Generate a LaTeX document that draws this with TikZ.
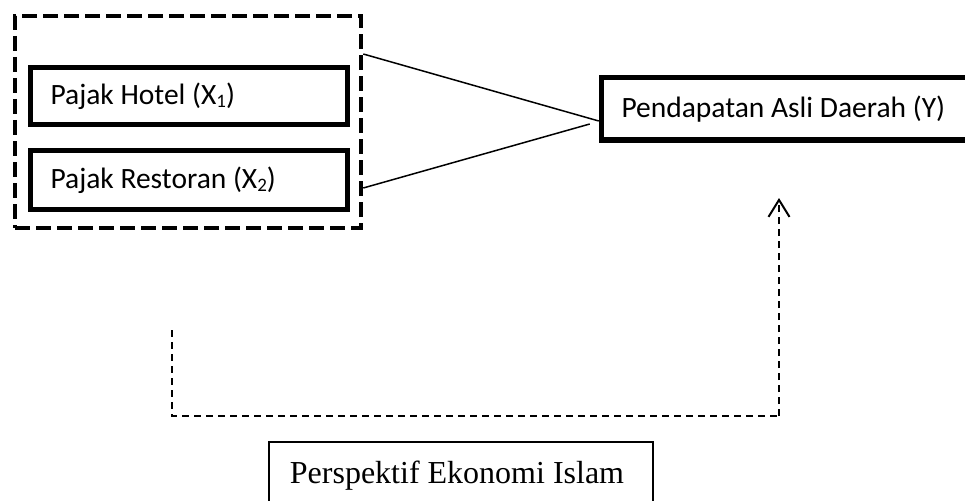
\documentclass[tikz,border=0pt]{standalone}
\usepackage{fontspec}
\setmainfont{Liberation Serif}
\newfontfamily\carl{Carlito}
\usetikzlibrary{arrows.meta,calc}
\newcommand{\subdig}[1]{\raisebox{-3pt}{\fontsize{19}{22}\selectfont #1}}
\newcommand{\carlfont}{\carl\fontsize{29.5}{34}\selectfont}
\newcommand{\nsp}{\spaceskip=0pt\xspaceskip=0pt\relax}
\begin{document}
\begin{tikzpicture}[x=1pt,y=-1pt,
  varbox/.style={draw,line width=4.5pt,rectangle,inner xsep=20pt,inner ysep=0pt,align=left,
    font=\carlfont},
  groupbox/.style={draw,line width=4.5pt,dash pattern=on 15pt off 6pt,rectangle,inner sep=0pt},
  conn/.style={line width=1.5pt},
  flow/.style={line width=2pt,dash pattern=on 7pt off 5pt},
  persp/.style={draw,line width=2pt,rectangle,inner sep=0pt,font=\fontsize{32}{38}\selectfont}]
\useasboundingbox (0,0) rectangle (965,500);
\clip (0,0) rectangle (965,500);
% group box
\node[groupbox,minimum width=346pt,minimum height=212pt] (grp) at (188,122) {};
% variable boxes
\node[varbox,text width=277pt,minimum height=57pt] (x1) at (189,96) {\nsp Pajak Hotel (X\subdig{1})};
\node[varbox,text width=277pt,minimum height=59pt] (x2) at (189,180) {\nsp Pajak Restoran (X\subdig{2})};
\node[varbox,line width=5.5pt,text width=333pt,minimum height=62.3pt] (y) at (788,108.85) {\nsp Pendapatan Asli Daerah (Y)};
% perspective box
\node[persp,minimum width=384pt,minimum height=96pt] (p) at (461,490) {};
\node[font=\fontsize{32}{38}\selectfont,inner sep=0pt,anchor=base] (pt) at (457,483) {Perspektif Ekonomi Islam};
% connectors
\coordinate (h1) at (0,54);
\coordinate (h2) at (0,188);
\coordinate (k1) at (0,121);
\coordinate (k2) at (0,124);
\draw[conn] (grp.east |- h1) -- (y.west |- k1);
\draw[conn] (grp.east |- h2) -- ($(y.west |- k2)+(-9,0)$);
% dashed flow arrow
\coordinate (s) at (172,330);
\coordinate (c1) at (172,416);
\coordinate (c2) at (779,416);
\coordinate (t) at (779,198);
\draw[flow] (s) -- (c1) -- (c2);
\draw[flow,-{Straight Barb[length=17pt,width=21pt,line width=2pt]}] (c2) -- (t);
\end{tikzpicture}
\end{document}
